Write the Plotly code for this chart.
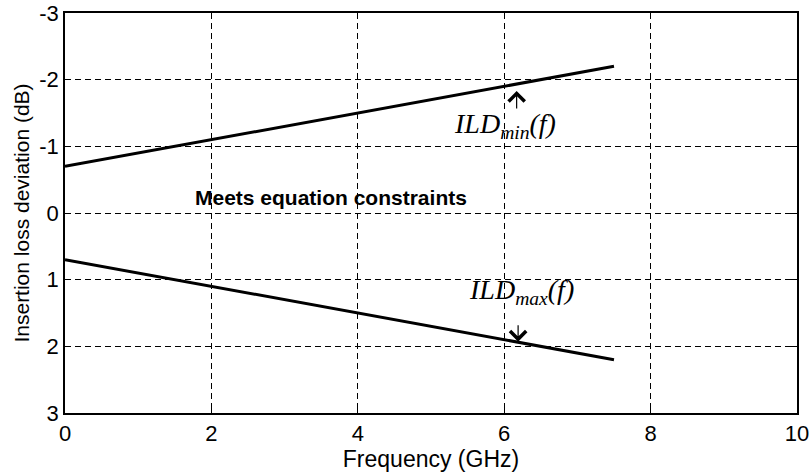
import plotly.graph_objects as go

freq = [0.0, 7.5]
ild_min = [-0.7, -2.2]
ild_max = [0.7, 2.2]

x_ticks = [0, 2, 4, 6, 8, 10]
y_ticks = [-3, -2, -1, 0, 1, 2, 3]

fig = go.Figure()
fig.add_trace(go.Scatter(x=freq, y=ild_min, mode="lines",
                         line=dict(color="black", width=3), showlegend=False))
fig.add_trace(go.Scatter(x=freq, y=ild_max, mode="lines",
                         line=dict(color="black", width=3), showlegend=False))

serif = dict(family="Liberation Serif, Times New Roman, serif", size=28, color="black")
sans = "Liberation Sans, Arial, sans-serif"

fig.add_annotation(x=6.01, y=-1.32, xref="x", yref="y",
                   text="<i>ILD<sub>min</sub>(f)</i>", showarrow=False, font=serif)
fig.add_annotation(x=6.23, y=1.18, xref="x", yref="y",
                   text="<i>ILD<sub>max</sub>(f)</i>", showarrow=False, font=serif)
# arrows
fig.add_annotation(x=6.17, y=-1.83, ax=6.17, ay=-1.545, xref="x", yref="y",
                   axref="x", ayref="y", text="", showarrow=True,
                   arrowhead=4, arrowsize=2.6, arrowwidth=1.2, arrowcolor="black")
fig.add_annotation(x=6.19, y=1.93, ax=6.19, ay=1.66, xref="x", yref="y",
                   axref="x", ayref="y", text="", showarrow=True,
                   arrowhead=4, arrowsize=2.6, arrowwidth=1.2, arrowcolor="black")

fig.add_annotation(x=3.63, y=-0.24, xref="x", yref="y",
                   text="<b>Meets equation constraints</b>", showarrow=False,
                   font=dict(family=sans, size=21, color="black"))

axis_common = dict(showline=True, linecolor="black", linewidth=1.5, mirror="ticks",
                   ticks="inside", ticklen=6, tickcolor="black",
                   showgrid=True, gridcolor="black", gridwidth=1, griddash="6px,4px",
                   zeroline=False, automargin=False,
                   tickfont=dict(family=sans, size=22, color="black"))

fig.update_xaxes(range=[0, 10], tickvals=x_ticks, ticktext=[str(v) for v in x_ticks],
                 title=dict(text="Frequency (GHz)", standoff=2,
                            font=dict(family=sans, size=23, color="black")),
                 **axis_common)
fig.update_yaxes(range=[3, -3], tickvals=y_ticks, ticktext=[str(v) for v in y_ticks],
                 title=dict(text="Insertion loss deviation (dB)", standoff=4,
                            font=dict(family=sans, size=21, color="black")),
                 **axis_common)

fig.update_layout(width=811, height=476, margin=dict(l=65, r=14, t=13, b=63),
                  plot_bgcolor="white", paper_bgcolor="white", hovermode=False)

fig.write_html("out.html", config={"displayModeBar": False})

# remove default browser body margin so the figure sits at the page origin
with open("out.html", "r", encoding="utf-8") as fh:
    html = fh.read()
html = html.replace("<body>", '<body style="margin:0;padding:0;overflow:hidden">', 1)
with open("out.html", "w", encoding="utf-8") as fh:
    fh.write(html)
